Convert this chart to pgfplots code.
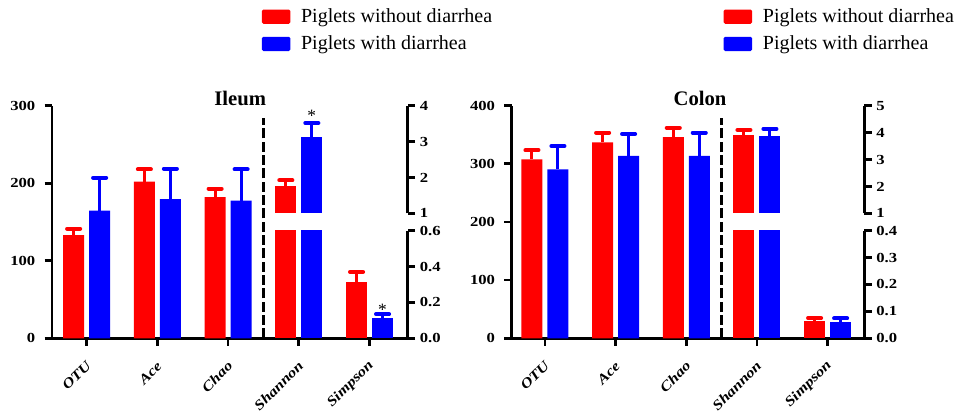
\documentclass[border=0pt]{standalone}
\usepackage{fontspec}
\setmainfont{Liberation Serif}
\newfontfamily\tickfont[FakeStretch=1.2]{Liberation Serif}
\usepackage{pgfplots}
\pgfplotsset{compat=1.18}

\pgfplotsset{
  base/.style={
    scale only axis,
    axis line style={line width=2pt},
    tick align=outside, major tick length=5.5pt,
    major tick style={line width=2pt, black},
    tick label style={font=\tickfont\bfseries\fontsize{10.4}{12}\selectfont},
    /pgf/number format/assume math mode=true,
    every axis title shift=0pt,
  },
  redseg/.style={ybar, bar width=15.75pt, bar shift=-9.75pt, fill=red, draw=none},
  blueseg/.style={ybar, bar width=15.75pt, bar shift=9.75pt, fill=blue, draw=none},
  redbar/.style={ybar, bar width=15.75pt, bar shift=-9.75pt, fill=red, draw=none,
    error bars/.cd, y dir=plus, y explicit, error mark=|,
    error bar style={draw=red, line width=2.2pt, xshift=-9.75pt},
    error mark options={draw=red, mark size=4.9pt, line width=3pt, line cap=round}},
  bluebar/.style={ybar, bar width=15.75pt, bar shift=9.75pt, fill=blue, draw=none,
    error bars/.cd, y dir=plus, y explicit, error mark=|,
    error bar style={draw=blue, line width=2.2pt, xshift=9.75pt},
    error mark options={draw=blue, mark size=4.9pt, line width=3pt, line cap=round}},
  mainax/.style={base, axis x line*=bottom, axis y line*=left,
    xtick={0,...,4}, xticklabels={OTU,Ace,Chao,Shannon,Simpson},
    xticklabel style={xshift=4pt, yshift=-11pt, rotate=45, anchor=east, font=\tickfont\bfseries\itshape\fontsize{10.4}{12}\selectfont},
    yticklabel style={xshift=-3.5pt},
    title style={anchor=base, font=\bfseries\fontsize{15.5}{18}\selectfont},
    legend style={anchor=west, draw=none, fill=none, inner sep=0pt,
      font=\fontsize{15}{17}\selectfont, cells={anchor=west}, row sep=4.5pt},
    legend image code/.code={\fill[##1, rounded corners=1.2pt] (0pt,-5.35pt) rectangle (21.5pt,5.35pt); \path (27.5pt,0pt);},
  },
  rightax/.style={base, axis x line=none, axis y line*=right},
}

\begin{document}
\begin{tikzpicture}
\useasboundingbox (0,0) rectangle (717pt,312pt);

%% ---------------- Ileum ----------------
\begin{axis}[mainax, at={(39pt,58.3pt)}, anchor=south west,
  width=266.8pt, height=174.45pt, xmin=-0.49, xmax=4.54,
  ymin=0, ymax=300, ytick={0,100,200,300},
  title={Ileum}, title style={at={(0.529,1)}},
  legend style={at={(0.589,1.324)}}]
\addplot[redbar] coordinates {(0,133) +- (0,8.4) (1,202) +- (0,16) (2,182) +- (0,11)};
\addlegendentry{Piglets without diarrhea}
\addplot[bluebar] coordinates {(0,164.6) +- (0,42.6) (1,179.3) +- (0,39.5) (2,177.5) +- (0,40.5)};
\addlegendentry{Piglets with diarrhea}
\draw[black, line width=2.5pt, dash pattern=on 7.5pt off 2.5pt] (axis cs:2.5,0) -- (axis cs:2.5,283.8);
\end{axis}

\begin{axis}[rightax, at={(39pt,58.3pt)}, anchor=south west,
  width=266.8pt, height=80.7pt, xmin=-0.49, xmax=4.54,
  ymin=0, ymax=0.6, ytick={0,0.2,0.4,0.6},
  yticklabel style={/pgf/number format/.cd, fixed, fixed zerofill, precision=1}]
\addplot[redseg] coordinates {(3,1.77)};
\addplot[blueseg] coordinates {(3,3.12)};
\addplot[redbar] coordinates {(4,0.316) +- (0,0.054)};
\addplot[bluebar] coordinates {(4,0.112) +- (0,0.022)};
\node[font=\fontsize{13}{14}\selectfont, anchor=base, xshift=9.75pt, yshift=-1pt] at (axis cs:4,0.134) {*};
\end{axis}

\begin{axis}[rightax, at={(39pt,152pt)}, anchor=south west,
  width=266.8pt, height=80.7pt, xmin=-0.49, xmax=4.54,
  ymin=1, ymax=4, ytick={1,2,3,4}]
\addplot[redbar] coordinates {(3,1.77) +- (0,0.15)};
\addplot[bluebar] coordinates {(3,3.12) +- (0,0.40)};
\node[font=\fontsize{13}{14}\selectfont, anchor=base, xshift=9.75pt, yshift=1pt] at (axis cs:3,3.52) {*};
\end{axis}

%% ---------------- Colon ----------------
\begin{axis}[mainax, at={(383.8pt,58.3pt)}, anchor=south west,
  width=264.45pt, height=174.45pt, xmin=-0.47, xmax=4.52,
  ymin=0, ymax=400, ytick={0,100,200,300,400},
  title={Colon}, title style={at={(0.534,1)}},
  legend style={at={(0.600,1.324)}}]
\addplot[redbar] coordinates {(0,307.8) +- (0,15.5) (1,337) +- (0,16.6) (2,345.7) +- (0,16)};
\addlegendentry{Piglets without diarrhea}
\addplot[bluebar] coordinates {(0,290.6) +- (0,40) (1,313.5) +- (0,37.8) (2,313.5) +- (0,40)};
\addlegendentry{Piglets with diarrhea}
\draw[black, line width=2.5pt, dash pattern=on 7.5pt off 2.5pt] (axis cs:2.5,0) -- (axis cs:2.5,378.3);
\end{axis}

\begin{axis}[rightax, at={(383.8pt,58.3pt)}, anchor=south west,
  width=264.45pt, height=80.7pt, xmin=-0.47, xmax=4.52,
  ymin=0, ymax=0.4, ytick={0,0.1,0.2,0.3,0.4},
  yticklabel style={/pgf/number format/.cd, fixed, fixed zerofill, precision=1}]
\addplot[redseg] coordinates {(3,3.91)};
\addplot[blueseg] coordinates {(3,3.87)};
\addplot[redbar] coordinates {(4,0.065) +- (0,0.010)};
\addplot[bluebar] coordinates {(4,0.059) +- (0,0.015)};
\end{axis}

\begin{axis}[rightax, at={(383.8pt,152pt)}, anchor=south west,
  width=264.45pt, height=80.7pt, xmin=-0.47, xmax=4.52,
  ymin=1, ymax=5, ytick={1,2,3,4,5}]
\addplot[redbar] coordinates {(3,3.91) +- (0,0.19)};
\addplot[bluebar] coordinates {(3,3.87) +- (0,0.27)};
\end{axis}
\end{tikzpicture}
\end{document}
